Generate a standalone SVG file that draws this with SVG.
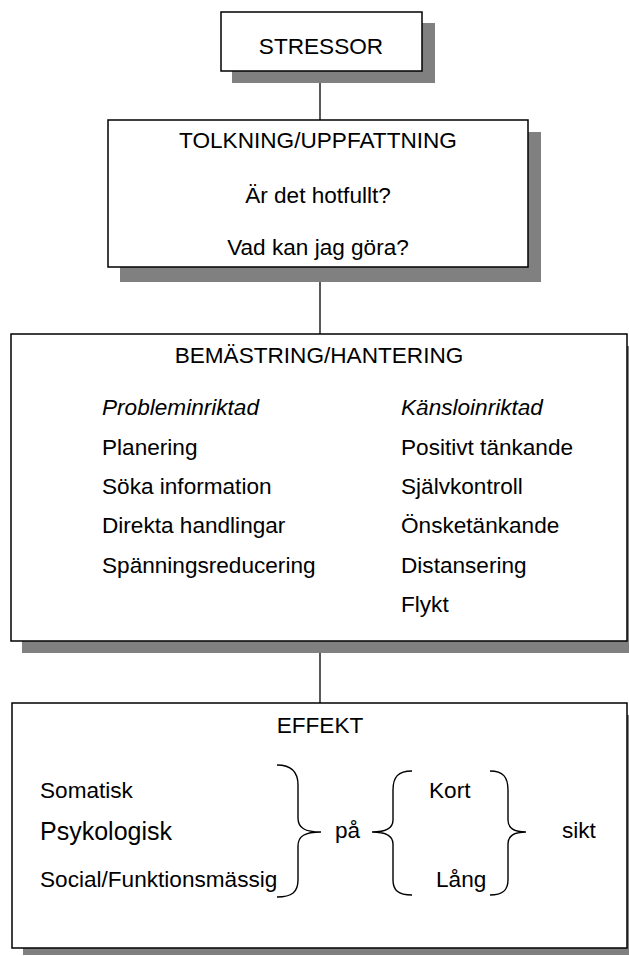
<svg xmlns="http://www.w3.org/2000/svg" width="629" height="956" viewBox="0 0 629 956">
<style>
.box{fill:#fff;stroke:#000;stroke-width:1.5}
.sh{fill:#808080}
text{font-family:"Liberation Sans",Arial,sans-serif;font-size:22.6px;fill:#000}
.c{text-anchor:middle}
.it{font-style:italic}
.sm{font-size:22.6px}
.lg{font-size:25px}
.conn{stroke:#000;stroke-width:1.3;fill:none}
.br{stroke:#000;stroke-width:1.4;fill:none}
</style>
<rect width="629" height="956" fill="#fff"/>
<g id="connectors">
<line class="conn" x1="320" y1="71" x2="320" y2="120"/>
<line class="conn" x1="320" y1="267" x2="320" y2="334"/>
<line class="conn" x1="320" y1="641" x2="320" y2="703"/>
</g>
<g id="stressor">
<rect class="sh" x="232" y="23" width="203" height="60"/>
<rect class="box" x="221" y="12" width="201" height="59"/>
<text class="c" x="321" y="54">STRESSOR</text>
</g>
<g id="tolkning">
<rect class="sh" x="120" y="132" width="421" height="150"/>
<rect class="box" x="108" y="120" width="420" height="147"/>
<text class="c" x="318" y="148">TOLKNING/UPPFATTNING</text>
<text class="c" x="318" y="203">Är det hotfullt?</text>
<text class="c" x="318" y="255">Vad kan jag göra?</text>
</g>
<g id="bemastring">
<rect class="sh" x="22" y="346" width="620" height="307"/>
<rect class="box" x="11" y="334" width="616" height="307"/>
<text class="c" x="319" y="363">BEMÄSTRING/HANTERING</text>
<text class="it" x="102" y="415">Probleminriktad</text>
<text x="102" y="455">Planering</text>
<text x="102" y="494">Söka information</text>
<text x="102" y="533">Direkta handlingar</text>
<text x="102" y="573">Spänningsreducering</text>
<text class="it" x="401" y="415">Känsloinriktad</text>
<text x="401" y="455">Positivt tänkande</text>
<text x="401" y="494">Självkontroll</text>
<text x="401" y="533">Önsketänkande</text>
<text x="401" y="573">Distansering</text>
<text x="401" y="612">Flykt</text>
</g>
<g id="effekt">
<rect class="sh" x="23" y="715" width="620" height="240"/>
<rect class="box" x="12" y="703" width="615" height="245"/>
<text class="c" x="320" y="733">EFFEKT</text>
<text class="sm" x="40" y="798">Somatisk</text>
<text class="lg" x="40" y="840">Psykologisk</text>
<text class="sm" x="40" y="887">Social/Funktionsmässig</text>
<text x="335" y="838">på</text>
<text x="429" y="798">Kort</text>
<text x="436" y="887">Lång</text>
<text x="562" y="838">sikt</text>
<path class="br" d="M277,765 C292,765 298,772 298,785 L298,818 C298,828 305,832 321,832 C305,832 298,836 298,846 L298,880 C298,892 292,897 277,897"/>
<path class="br" d="M412,771 C398,771 393,777 393,790 L393,820 C393,828 386,832 372,832 C386,832 393,836 393,844 L393,880 C393,890 398,895 412,895"/>
<path class="br" d="M490,771 C503,771 508,777 508,790 L508,820 C508,828 514,832 526,832 C514,832 508,836 508,844 L508,880 C508,890 503,895 490,895"/>
</g>
</svg>
